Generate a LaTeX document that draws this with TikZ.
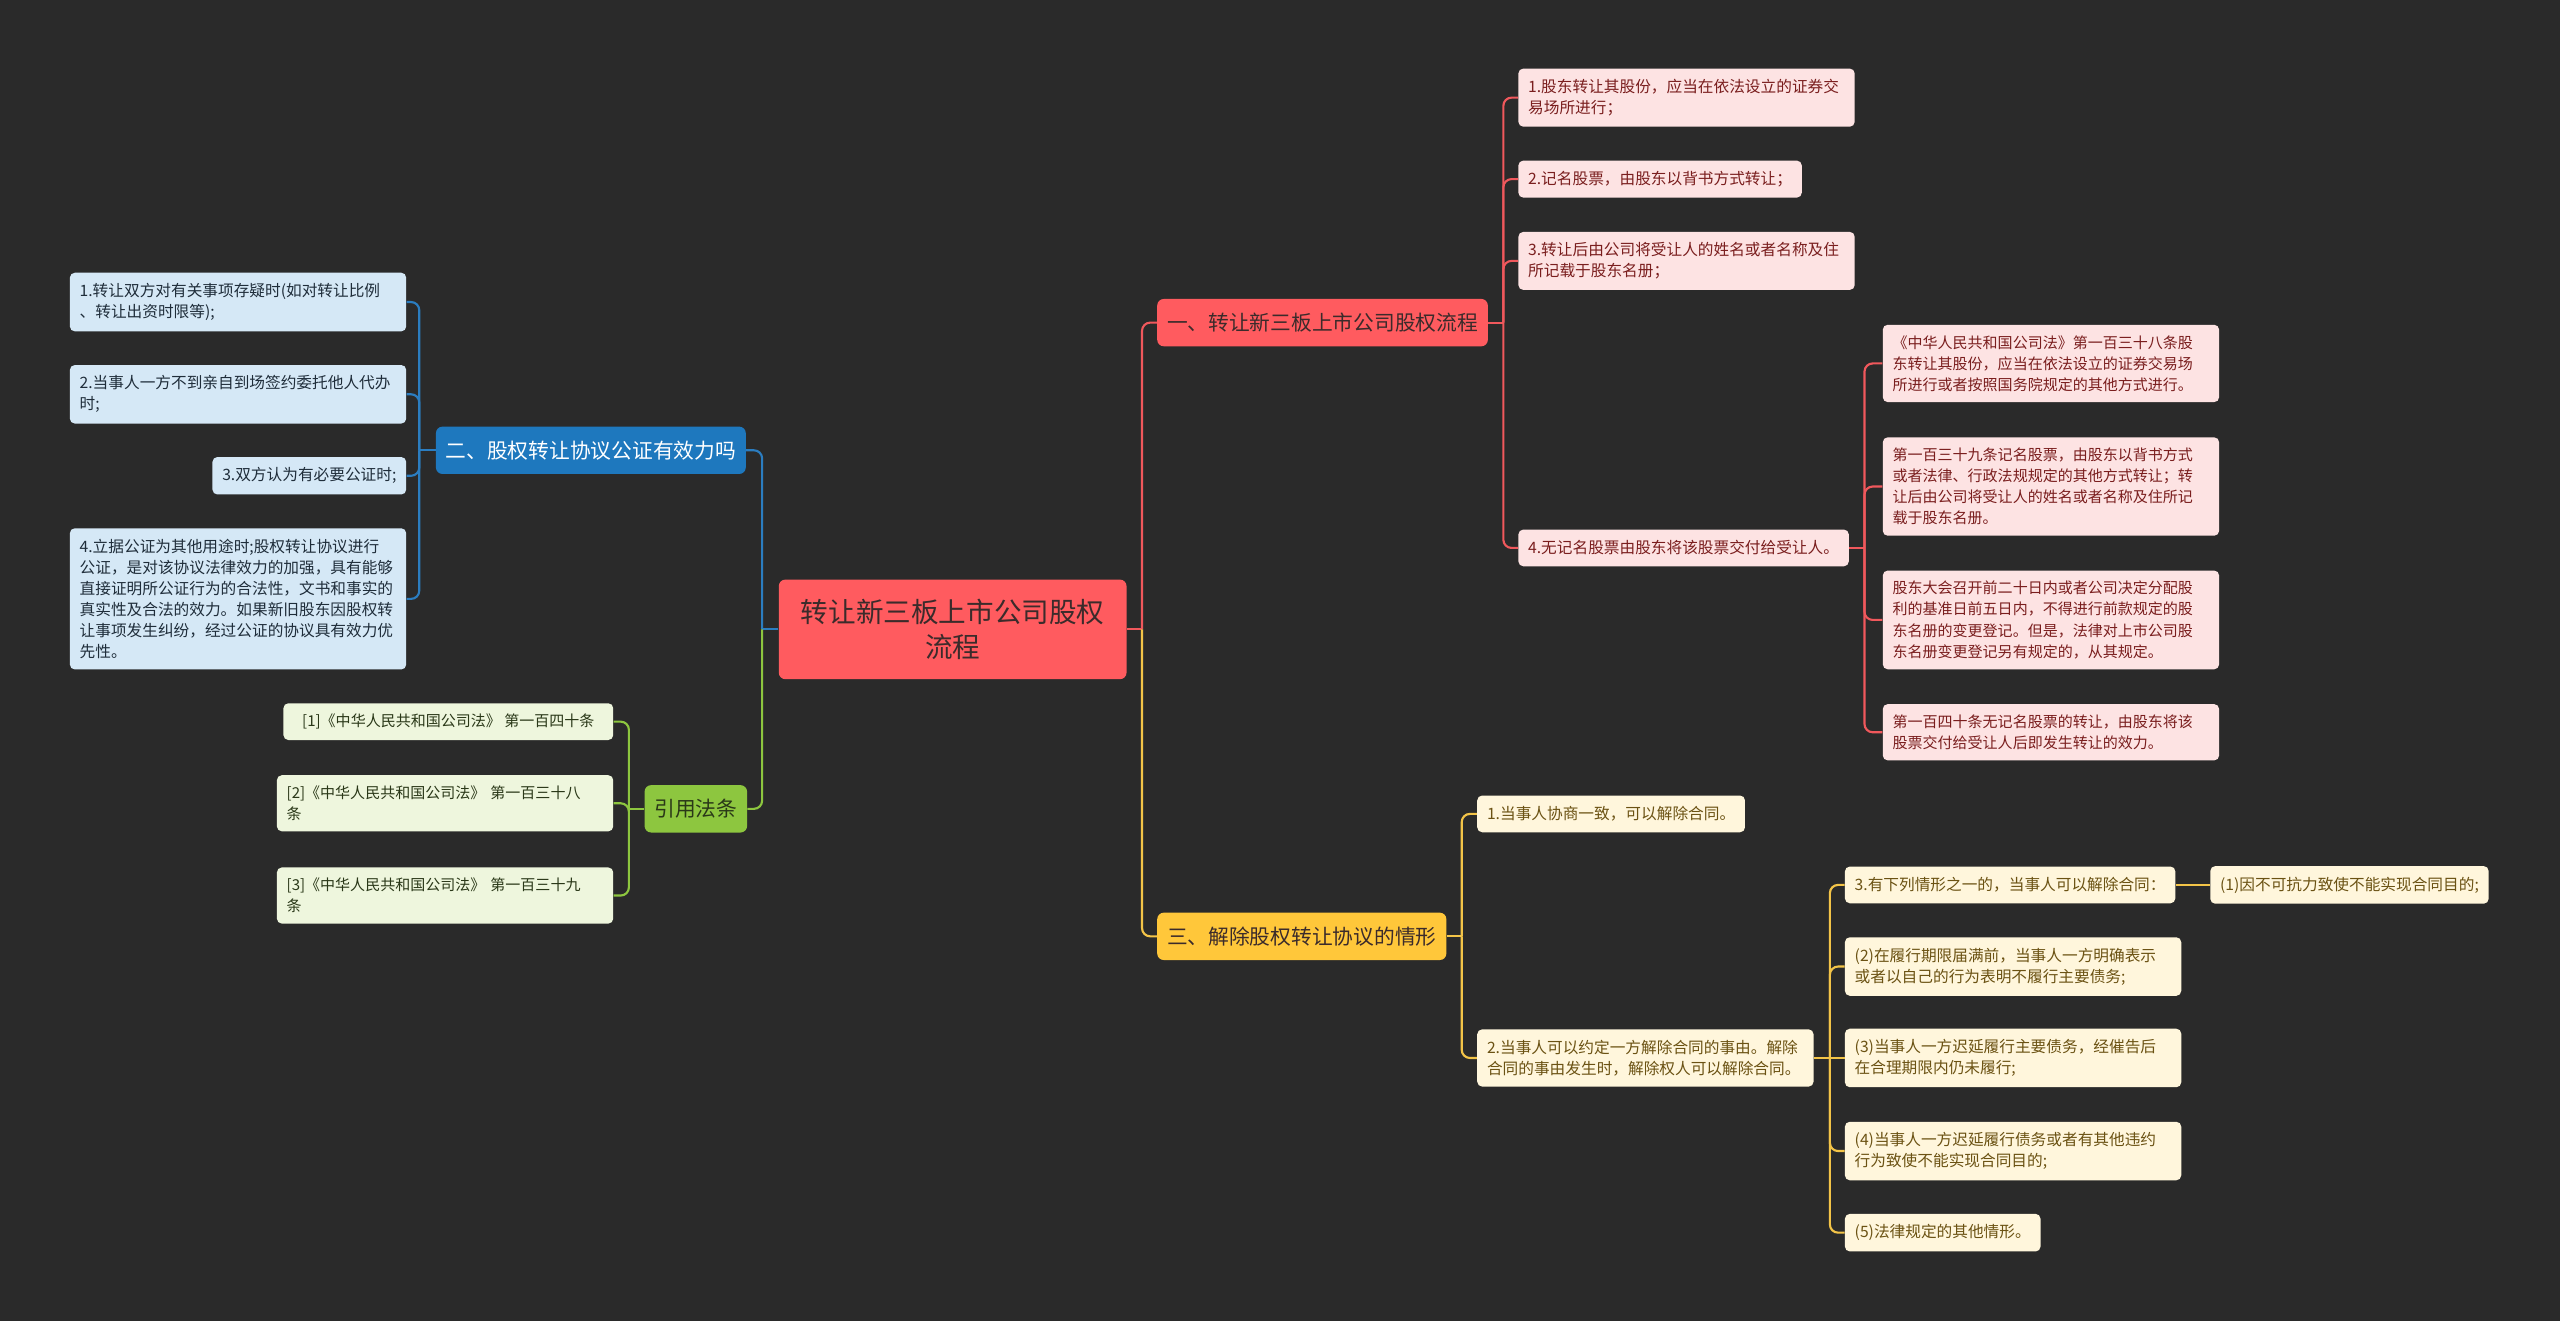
\documentclass[tikz,border=0pt]{standalone}
\usepackage{fontspec}
\setmainfont{Noto Sans CJK SC}
\usepackage{xcolor}
\definecolor{bgdark}{HTML}{2A2A2A}
\definecolor{rootred}{HTML}{FF5B5F}
\definecolor{rootink}{HTML}{3B2B2B}
\definecolor{redline}{HTML}{F0585C}
\definecolor{redpale}{HTML}{FDE3E3}
\definecolor{redink}{HTML}{7A1E1E}
\definecolor{bluetop}{HTML}{1E78BE}
\definecolor{blueline}{HTML}{2B7DC0}
\definecolor{bluepale}{HTML}{D5E8F6}
\definecolor{blueink}{HTML}{1F2D3A}
\definecolor{greentop}{HTML}{8DC63F}
\definecolor{greenpale}{HTML}{EEF6DD}
\definecolor{greenink}{HTML}{2A3818}
\definecolor{yeltop}{HTML}{FFC73A}
\definecolor{yelline}{HTML}{F3C448}
\definecolor{yelpale}{HTML}{FFF6DC}
\definecolor{yelink}{HTML}{6B5213}

\begin{document}
\begin{tikzpicture}[x=1pt,y=-1pt,
  topic/.style={rounded corners=4pt,inner xsep=6pt,minimum height=29pt,font=\fontsize{12.7}{15}\selectfont},
  leaf/.style={rounded corners=3pt,inner xsep=6pt,inner ysep=6.5pt,minimum height=22.5pt,align=left,font=\fontsize{9.6}{12.9}\selectfont},
  wide/.style={text width=194pt},
  link/.style={line width=1.3pt,rounded corners=5pt},
]
  \fill[bgdark] (0,0) rectangle (1568,809);

  % centre
  \node[fill=rootred,text=rootink,rounded corners=4pt,align=center,minimum width=213pt,minimum height=61pt,font=\fontsize{16.9}{22}\selectfont] (root) at (583.5,385.5) {转让新三板上市公司股权\\流程};

  % topics
  \node[topic,fill=rootred,text=rootink,anchor=west] (rt) at (708.6,197.6) {一、转让新三板上市公司股权流程};
  \node[topic,fill=bluetop,text=white,anchor=east] (bt) at (457,275.8) {二、股权转让协议公证有效力吗};
  \node[topic,fill=greentop,text=greenink,anchor=east] (gt) at (457.8,495.4) {引用法条};
  \node[topic,fill=yeltop,text=rootink,anchor=west] (yt) at (708.6,573.5) {三、解除股权转让协议的情形};

  \draw[link,redline] (root.east) -- ++(9.3,0) coordinate (rootr);
  \draw[link,blueline] (root.west) -- ++(-10,0) coordinate (rootl);
  \draw[link,redline] (rootr) |- (rt.west);
  \draw[link,yelline] (rootr) |- (yt.west);
  \draw[link,blueline] (rootl) |- (bt.east);
  \draw[link,greentop] (rootl) |- (gt.east);

  % red branch
  \node[leaf,wide,fill=redpale,text=redink,anchor=west] (r1) at (929.8,59.8) {1.股东转让其股份，应当在依法设立的证券交\\易场所进行；};
  \node[leaf,fill=redpale,text=redink,anchor=west] (r2) at (929.8,109.7) {2.记名股票，由股东以背书方式转让；};
  \node[leaf,wide,fill=redpale,text=redink,anchor=west] (r3) at (929.8,159.8) {3.转让后由公司将受让人的姓名或者名称及住\\所记载于股东名册；};
  \node[leaf,fill=redpale,text=redink,anchor=west] (r4) at (929.8,335.6) {4.无记名股票由股东将该股票交付给受让人。};

  \draw[link,redline] (rt.east) -- ++(9.3,0) coordinate (rtj);
  \draw[link,redline] (rtj) |- (r1.west);
  \draw[link,redline] (rtj) |- (r2.west);
  \draw[link,redline] (rtj) |- (r3.west);
  \draw[link,redline] (rtj) |- (r4.west);

  \node[leaf,wide,fill=redpale,text=redink,anchor=west,font=\fontsize{9.2}{12.9}\selectfont] (r41) at (1153,222.6) {《中华人民共和国公司法》第一百三十八条股\\东转让其股份，应当在依法设立的证券交易场\\所进行或者按照国务院规定的其他方式进行。};
  \node[leaf,wide,fill=redpale,text=redink,anchor=west,font=\fontsize{9.2}{12.9}\selectfont] (r42) at (1153,298) {第一百三十九条记名股票，由股东以背书方式\\或者法律、行政法规规定的其他方式转让；转\\让后由公司将受让人的姓名或者名称及住所记\\载于股东名册。};
  \node[leaf,wide,fill=redpale,text=redink,anchor=west,font=\fontsize{9.2}{12.9}\selectfont] (r43) at (1153,379.7) {股东大会召开前二十日内或者公司决定分配股\\利的基准日前五日内，不得进行前款规定的股\\东名册的变更登记。但是，法律对上市公司股\\东名册变更登记另有规定的，从其规定。};
  \node[leaf,wide,fill=redpale,text=redink,anchor=west,font=\fontsize{9.2}{12.9}\selectfont] (r44) at (1153,448.5) {第一百四十条无记名股票的转让，由股东将该\\股票交付给受让人后即发生转让的效力。};

  \draw[link,redline] (r4.east) -- ++(9.4,0) coordinate (r4j);
  \draw[link,redline] (r4j) |- (r41.west);
  \draw[link,redline] (r4j) |- (r42.west);
  \draw[link,redline] (r4j) |- (r43.west);
  \draw[link,redline] (r4j) |- (r44.west);

  % blue branch
  \node[leaf,wide,fill=bluepale,text=blueink,anchor=east] (b1) at (249,185) {1.转让双方对有关事项存疑时(如对转让比例\\、转让出资时限等);};
  \node[leaf,wide,fill=bluepale,text=blueink,anchor=east] (b2) at (249,241.5) {2.当事人一方不到亲自到场签约委托他人代办\\时;};
  \node[leaf,fill=bluepale,text=blueink,anchor=east] (b3) at (249,291.4) {3.双方认为有必要公证时;};
  \node[leaf,wide,fill=bluepale,text=blueink,anchor=east] (b4) at (249,366.8) {4.立据公证为其他用途时;股权转让协议进行\\公证，是对该协议法律效力的加强，具有能够\\直接证明所公证行为的合法性，文书和事实的\\真实性及合法的效力。如果新旧股东因股权转\\让事项发生纠纷，经过公证的协议具有效力优\\先性。};

  \draw[link,blueline] (bt.west) -- ++(-10,0) coordinate (btj);
  \draw[link,blueline] (btj) |- (b1.east);
  \draw[link,blueline] (btj) |- (b2.east);
  \draw[link,blueline] (btj) |- (b3.east);
  \draw[link,blueline] (btj) |- (b4.east);

  % green branch
  \node[leaf,fill=greenpale,text=greenink,anchor=east,minimum width=202pt,font=\fontsize{9.2}{12.9}\selectfont] (g1) at (375.8,442) {[1]《中华人民共和国公司法》 第一百四十条};
  \node[leaf,wide,fill=greenpale,text=greenink,anchor=east,font=\fontsize{9.2}{12.9}\selectfont] (g2) at (375.8,492) {[2]《中华人民共和国公司法》 第一百三十八\\条};
  \node[leaf,wide,fill=greenpale,text=greenink,anchor=east,font=\fontsize{9.2}{12.9}\selectfont] (g3) at (375.8,548.5) {[3]《中华人民共和国公司法》 第一百三十九\\条};

  \draw[link,greentop] (gt.west) -- ++(-9.4,0) coordinate (gtj);
  \draw[link,greentop] (gtj) |- (g1.east);
  \draw[link,greentop] (gtj) |- (g2.east);
  \draw[link,greentop] (gtj) |- (g3.east);

  % yellow branch
  \node[leaf,fill=yelpale,text=yelink,anchor=west] (y1) at (904.6,498.5) {1.当事人协商一致，可以解除合同。};
  \node[leaf,wide,fill=yelpale,text=yelink,anchor=west] (y2) at (904.6,648) {2.当事人可以约定一方解除合同的事由。解除\\合同的事由发生时，解除权人可以解除合同。};

  \draw[link,yelline] (yt.east) -- ++(9.2,0) coordinate (ytj);
  \draw[link,yelline] (ytj) |- (y1.west);
  \draw[link,yelline] (ytj) |- (y2.west);

  \node[leaf,fill=yelpale,text=yelink,anchor=west] (y21) at (1129.8,542) {3.有下列情形之一的，当事人可以解除合同：};
  \node[leaf,wide,fill=yelpale,text=yelink,anchor=west] (y22) at (1129.8,592) {(2)在履行期限届满前，当事人一方明确表示\\或者以自己的行为表明不履行主要债务;};
  \node[leaf,wide,fill=yelpale,text=yelink,anchor=west] (y23) at (1129.8,648) {(3)当事人一方迟延履行主要债务，经催告后\\在合理期限内仍未履行;};
  \node[leaf,wide,fill=yelpale,text=yelink,anchor=west] (y24) at (1129.8,705) {(4)当事人一方迟延履行债务或者有其他违约\\行为致使不能实现合同目的;};
  \node[leaf,fill=yelpale,text=yelink,anchor=west] (y25) at (1129.8,755) {(5)法律规定的其他情形。};
  \node[leaf,fill=yelpale,text=yelink,anchor=west] (y211) at (1353.6,542) {(1)因不可抗力致使不能实现合同目的;};

  \draw[link,yelline] (y2.east) -- ++(9.8,0) coordinate (y2j);
  \draw[link,yelline] (y2j) |- (y21.west);
  \draw[link,yelline] (y2j) |- (y22.west);
  \draw[link,yelline] (y2j) -- (y23.west);
  \draw[link,yelline] (y2j) |- (y24.west);
  \draw[link,yelline] (y2j) |- (y25.west);
  \draw[link,yelline] (y21.east) -- (y211.west);
\end{tikzpicture}
\end{document}
